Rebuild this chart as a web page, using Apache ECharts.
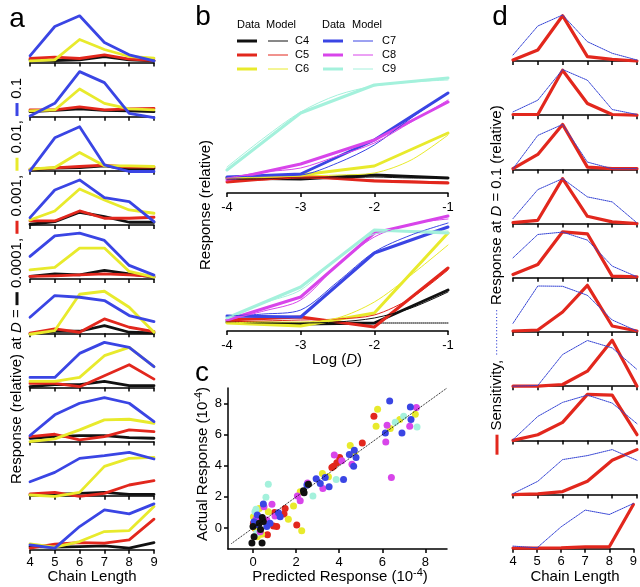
<!DOCTYPE html>
<html><head><meta charset="utf-8">
<script src="https://cdn.jsdelivr.net/npm/echarts@6/dist/echarts.min.js"></script>
<style>html,body{margin:0;padding:0;background:#fff}#c{width:640px;height:587px}</style>
</head><body><div id="c"></div>
<script>
// ---------------- DATA ----------------
const chainLengths = [4, 5, 6, 7, 8, 9];
// Panel a: relative response for 10 compounds at D = 0.1 (blue), 0.01 (yellow), 0.001 (red), 0.0001 (black)
const aBlue = [
  [6.7, 36, 46.7, 20, 7.7, 1.7],
  [0.7, 13.3, 45, 34, 3.3, -1],
  [0, 33, 44, 6, -0.7, -0.7],
  [7.3, 35, 45, 27.3, 23.3, 3.3],
  [22.7, 43.3, 46, 38.7, 13.7, 4],
  [16, 37.7, 36, 32.7, 17.7, 11.7],
  [10, 10, 34, 45, 40, 20.7],
  [6, 26.7, 38.3, 44, 38.3, 20],
  [14, 23.3, 37.3, 40, 43.3, 36.7],
  [5, 1.7, 23.3, 40, 36, 46]
];
const aYellow = [
  [1.7, 2.7, 23, 13, 6, 4.3],
  [5.7, 6.7, 27.7, 13.3, 7.7, 6.7],
  [1.7, 3.3, 18.3, 5, 5, 4.3],
  [5, 14, 36, 25, 15, 11.7],
  [9.3, 11.7, 31, 31, 7.7, 2],
  [-1, 2.7, 39, 42, 26, 1],
  [6, 6, 10, 31.7, 40, 20.7],
  [0, 2.7, 11.7, 21.7, 22.3, 18.3],
  [0.7, -0.7, 3.3, 29.3, 37.3, 38.3],
  [6, 2.7, 8.3, 18.3, 19.3, 43.3]
];
const aRed = [
  [4, 5.3, 4, 7.7, 3.3, 2],
  [6.7, 6.7, 9.7, 6.7, 7.7, 8.3],
  [1.7, 3, 4.3, 5.7, 3.7, 3.7],
  [4, 4, 14, 6.7, 6.7, 7.7],
  [2.7, 3.3, 4.3, 5.3, 4.3, 2.7],
  [0, 4.3, 1, 14.3, 6, 1.7],
  [4, 4, 0.7, 11.7, 22.7, 8.3],
  [5, 7.3, 1.7, 5, 11.7, 10],
  [1.7, 3.3, -0.7, 2.3, 10.7, 15],
  [1.7, 5.7, 7.3, 6.7, 10, 30.7]
];
const aBlack = [
  [2.7, 2, 2.7, 6, 2.7, 1.7],
  [5, 6.3, 7.7, 6.3, 5.7, 5],
  [1, 2.7, 3.3, 5, 1.7, 2.3],
  [0.7, 3.3, 12.7, 8.3, 2.7, 2.7],
  [2.7, 5.3, 4.3, 8.7, 5.3, 2],
  [-0.7, 2, 2, 7.7, 1, 0.3],
  [0.7, 2.7, 2.7, 6, 1.7, 1.7],
  [3.3, 5, 6, 6, 4, 3.3],
  [0.7, 1.3, 2.3, 3.3, 1.3, 1.3],
  [3.3, 2.7, 3.3, 4, 1.7, 7.3]
];

// Panel b: dose-response, log(D)
const bLogD = [-4, -3, -2, -1];
const bModelLogD = [-4, -3.5, -3, -2.5, -2, -1.5, -1];
const bNames = ['C4', 'C5', 'C6', 'C7', 'C8', 'C9'];
// upper plot
const bUpData = {
  C4: [0.02, 0.01, 0.05, 0.02],
  C5: [-0.02, 0.04, -0.01, -0.03],
  C6: [0.02, 0.05, 0.14, 0.47],
  C7: [0.03, 0.06, 0.40, 0.87],
  C8: [0.0, 0.16, 0.40, 0.78],
  C9: [0.10, 0.67, 0.95, 1.02]
};
const bUpModel = {
  C4: [0.01, 0.01, 0.02, 0.02, 0.03, 0.02, 0.02],
  C5: [-0.01, 0.0, 0.02, 0.01, 0.0, -0.01, -0.02],
  C6: [0.02, 0.03, 0.04, 0.05, 0.07, 0.20, 0.45],
  C7: [0.03, 0.04, 0.05, 0.17, 0.35, 0.62, 0.87],
  C8: [0.02, 0.08, 0.12, 0.24, 0.37, 0.58, 0.80],
  C9: [0.13, 0.42, 0.68, 0.85, 0.94, 0.98, 1.00]
};
// lower plot
const bLoData = {
  C4: [0.01, -0.01, 0.0, 0.33],
  C5: [0.03, 0.06, -0.04, 0.55],
  C6: [0.0, -0.03, 0.10, 0.90],
  C7: [0.07, 0.06, 0.70, 0.96],
  C8: [0.03, 0.26, 0.90, 1.07],
  C9: [0.05, 0.36, 0.93, 0.90]
};
const bLoModel = {
  C4: [0.01, 0.0, 0.0, 0.01, 0.05, 0.15, 0.31],
  C5: [0.01, 0.02, 0.03, 0.04, 0.08, 0.25, 0.53],
  C6: [0.0, 0.01, 0.01, 0.05, 0.21, 0.48, 0.78],
  C7: [0.07, 0.09, 0.13, 0.41, 0.71, 0.88, 1.00],
  C8: [0.03, 0.12, 0.23, 0.58, 0.86, 0.99, 1.04],
  C9: [0.05, 0.20, 0.33, 0.65, 0.89, 0.92, 0.92]
};
const bTicks = ['-4', '-3', '-2', '-1'];

// Panel c: predicted vs actual response (x1e-4), per chain length colour
const cBlack = [[2.57,2.82],[2.37,2.26],[2.34,2.39],[0.43,0.68],[0.48,0.41],[0.29,0.30],[-0.05,-0.96],[0.42,-0.96],[0.05,-0.56],[0.0,0.1],[0.35,-0.1]];
const cRed = [[5.61,7.18],[5.07,5.47],[4.02,4.53],[3.89,4.19],[3.74,3.97],[3.66,3.89],[1.49,1.26],[1.44,0.90],[2.03,0.19],[0.95,0.13],[1.10,0.09],[0.67,-0.43],[0.09,-0.02],[0.02,0.30],[0.09,0.47],[1.0,1.0],[0.3,0.5]];
const cYellow = [[5.78,7.63],[7.53,7.31],[6.81,6.97],[5.71,6.54],[6.37,6.39],[4.51,5.30],[4.70,4.79],[3.22,3.50],[3.50,3.29],[2.19,2.33],[1.88,1.41],[1.64,0.56],[2.26,-0.17],[0.29,1.26],[0.02,0.73],[0.20,-0.56],[0.71,1.05],[0.4,-0.4],[0.1,0.0]];
const cBlue = [[6.34,8.16],[7.30,7.78],[7.33,6.97],[6.14,6.11],[6.91,6.11],[4.70,5.0],[4.47,4.72],[4.78,4.53],[4.67,3.97],[2.93,3.16],[4.20,3.12],[3.35,3.25],[3.53,2.65],[3.12,2.86],[2.50,2.76],[0.48,1.54],[1.18,0.98],[1.26,0.73],[0.79,0.30],[0.20,0.83],[0.25,0.19],[0.64,0.09],[0.05,0.4]];
const cMagenta = [[7.58,7.74],[6.22,6.6],[7.27,6.54],[6.16,5.53],[6.42,3.25],[3.77,4.70],[4.12,4.32],[4.59,4.10],[2.53,2.9],[3.24,2.54],[2.06,2.05],[2.19,1.75],[0.88,1.52],[0.51,1.37],[1.02,0.77],[0.33,-0.24],[0.64,0.51],[0.15,0.6]];
const cCyan = [[6.99,7.18],[6.6,6.8],[7.61,6.5],[3.86,3.12],[2.78,2.05],[0.71,2.82],[0.60,1.97],[0.09,1.05],[0.17,-0.34],[0.14,1.2]];
const cTicks = [0, 2, 4, 6, 8];
const cDiagonal = [[-1, -1], [9, 9]];

// Panel d: sensitivity (red) and response at D = 0.1 (blue dotted)
const dSens = [
  [1, 11, 45.3, 4.3, 1.7, 0],
  [0.7, 0.7, 45, 11.7, 0.7, 0],
  [0.7, 15, 45, 2.3, 0.7, 0.7],
  [1, 3.3, 45, 7.3, 1.7, 0],
  [3.3, 13.3, 46, 44, 1.7, 1],
  [1, 2, 20, 46.7, 6, 1],
  [0, 0, 1.7, 15, 46, 0],
  [0, 5.7, 18, 46, 45.3, 5.7],
  [0, 0.7, 3, 13.3, 34.3, 45],
  [0.7, 0.7, 1, 2, 2, 44.3]
];
const dResp = [
  [6, 35, 46, 19.3, 7.7, 1],
  [3.3, 15, 45.7, 35, 5.7, 0.7],
  [0.7, 34, 45, 7.3, 0.7, 0.7],
  [5, 34, 45, 26.7, 21.7, 0.7],
  [20, 43.3, 45.7, 37.7, 11.7, 1],
  [8.7, 46, 45.7, 36.7, 12, 1],
  [0, 0.7, 31.7, 45.7, 38.3, 16.7],
  [0.7, 24, 38, 45.3, 37.3, 16.7],
  [1, 13.3, 35, 39, 45, 34.3],
  [2.7, 1, 22, 38.7, 34.3, 45.3]
];

// ---------------- STYLE ----------------
const FONT = '"Liberation Sans", Arial, Helvetica, sans-serif';
const COL = {C4:'#111111', C5:'#e2271d', C6:'#e8ea2c', C7:'#3a45e4', C8:'#d845ea', C9:'#a4f1dc'};
const BLUE = COL.C7, YELLOW = COL.C6, RED = COL.C5, BLACK = COL.C4, MAGENTA = COL.C8, CYAN = COL.C9;

const grids = [], xAxes = [], yAxes = [], series = [], graphics = [];
function addGrid(g, x, y) {
  grids.push(g);
  const idx = grids.length - 1;
  x.gridIndex = idx; y.gridIndex = idx;
  xAxes.push(x); yAxes.push(y);
  return idx;
}
const axLine = {onZero: false, lineStyle: {color: '#000', width: 1.5}};
const axTick = {length: 4, lineStyle: {color: '#000', width: 1.5}};
function lbl(show, extra) {
  return Object.assign({show: show, fontSize: 13, color: '#000', fontFamily: FONT, margin: 6}, extra || {});
}
function line(idx, xs, ys, color, width, type, smooth) {
  series.push({
    type: 'line', xAxisIndex: idx, yAxisIndex: idx,
    data: xs.map((x, k) => [x, ys[k]]),
    symbol: 'none', smooth: smooth || false, clip: false, silent: true,
    lineStyle: {color: color, width: width, type: type || 'solid', cap: 'round', join: 'round'},
    z: 2
  });
}

// ---- Panel a ----
for (let i = 0; i < 10; i++) {
  const base = 62.5 + 54.15 * i;
  const idx = addGrid({left: 30, top: base - 50, width: 124, height: 50},
    {type: 'value', min: 4, max: 9, interval: 1, axisLine: axLine, axisTick: axTick,
     axisLabel: lbl(i === 9), splitLine: {show: false}},
    {type: 'value', min: 0, max: 50, show: false});
  line(idx, chainLengths, aBlack[i], BLACK, 2.8);
  line(idx, chainLengths, aRed[i], RED, 2.8);
  line(idx, chainLengths, aYellow[i], YELLOW, 2.8);
  line(idx, chainLengths, aBlue[i], BLUE, 2.8);
}

// ---- Panel b ----
const bUp = addGrid({left: 227, top: 70, width: 221, height: 123},
  {type: 'value', min: -4, max: -1, interval: 1, axisLine: axLine, axisTick: axTick,
   axisLabel: lbl(true, {margin: 8, formatter: v => bTicks[Math.round(v) + 4]}), splitLine: {show: false}},
  {type: 'value', min: -0.13, max: 1.10, show: false});
const bLo = addGrid({left: 227, top: 205, width: 221, height: 126},
  {type: 'value', min: -4, max: -1, interval: 1, axisLine: axLine, axisTick: axTick,
   axisLabel: lbl(true, {margin: 8, formatter: v => bTicks[Math.round(v) + 4]}), splitLine: {show: false}},
  {type: 'value', min: -0.08, max: 1.18, show: false});
line(bLo, [-4, -1], [0, 0], '#000', 1, 'dotted');
bNames.forEach(n => {
  line(bUp, bLogD, bUpData[n], COL[n], 3);
  line(bLo, bLogD, bLoData[n], COL[n], 3);
});
bNames.forEach(n => {
  line(bUp, bModelLogD, bUpModel[n], COL[n], 1, 'solid', 0.3);
  line(bLo, bModelLogD, bLoModel[n], COL[n], 1, 'solid', 0.3);
});

// ---- Panel c ----
const cIdx = addGrid({left: 228, top: 388, width: 219, height: 161},
  {type: 'value', min: -1.16, max: 9, axisLine: axLine,
   axisTick: Object.assign({customValues: cTicks}, axTick),
   axisLabel: lbl(true, {customValues: cTicks, margin: 7}), splitLine: {show: false}},
  {type: 'value', min: -1.35, max: 9, axisLine: axLine,
   axisTick: Object.assign({customValues: cTicks}, axTick),
   axisLabel: lbl(true, {customValues: cTicks, margin: 6}), splitLine: {show: false}});
series.push({type: 'line', xAxisIndex: cIdx, yAxisIndex: cIdx, data: cDiagonal, symbol: 'none', silent: true,
  lineStyle: {color: '#000', width: 1, type: 'dotted'}, z: 3});
[[cRed, RED], [cYellow, YELLOW], [cCyan, CYAN], [cMagenta, MAGENTA], [cBlue, BLUE], [cBlack, BLACK]].forEach(([d, c]) => {
  series.push({type: 'scatter', xAxisIndex: cIdx, yAxisIndex: cIdx, data: d, symbolSize: 7, silent: true,
    itemStyle: {color: c, opacity: 1}, z: 2});
});

// ---- Panel d ----
for (let i = 0; i < 10; i++) {
  const base = 61 + 54.2 * i;
  const idx = addGrid({left: 513, top: base - 50, width: 124, height: 50},
    {type: 'value', min: 4, max: 9, interval: 1, axisLine: axLine, axisTick: axTick,
     axisLabel: lbl(i === 9), splitLine: {show: false}},
    {type: 'value', min: 0, max: 50, show: false});
  line(idx, chainLengths, dSens[i], RED, 3.2);
  line(idx, chainLengths, dResp[i], '#3342d4', 1, 'dotted');
}

// ---------------- TEXT ----------------
function txt(x, y, text, size, extra, rot) {
  graphics.push({type: 'text', x: x, y: y, rotation: rot || 0, silent: true, z: 10,
    style: Object.assign({text: text, fontSize: size, fontFamily: FONT, fill: '#000',
      textAlign: 'center', textVerticalAlign: 'middle'}, extra || {})});
}
const bar = c => ({width: 13, height: 3, backgroundColor: c, verticalAlign: 'middle'});
const ital = {fontStyle: 'italic', fontSize: 15, fontFamily: FONT};
// panel letters
txt(17, 19, 'a', 28);
txt(203, 17, 'b', 28);
txt(202, 373, 'c', 28);
txt(500, 17, 'd', 28);
// axis titles
txt(92, 577, 'Chain Length', 15);
txt(575, 577, 'Chain Length', 15);
txt(337, 360, 'Log ({i|D})', 15, {rich: {i: ital}});
txt(340, 577, 'Predicted Response (10{s|-4})', 15, {rich: {s: {fontSize: 11, fontFamily: FONT, padding: [0, 0, 9, 0]}}});
txt(206, 205, 'Response (relative)', 15, {}, Math.PI / 2);
txt(203, 464, 'Actual Response (10{s|-4})', 15, {rich: {s: {fontSize: 11, fontFamily: FONT, padding: [0, 0, 9, 0]}}}, Math.PI / 2);
txt(17, 281, 'Response (relative) at {i|D} = {k| } 0.0001, {r| } 0.001, {y| } 0.01, {b| } 0.1', 15,
  {rich: {i: ital, k: bar(BLACK), r: bar(RED), y: bar(YELLOW), b: bar(BLUE)}}, Math.PI / 2);
txt(497, 280, '{r| } Sensitivity, {d|··············} Response at {i|D} = 0.1 (relative)', 15,
  {rich: {i: ital, r: {width: 20, height: 3, backgroundColor: RED, verticalAlign: 'middle'},
          d: {fontSize: 10, fill: '#3342d4', color: '#3342d4', fontFamily: FONT}}}, Math.PI / 2);

// legend of panel b
txt(237, 25, 'Data', 11, {textAlign: 'left'});
txt(266, 25, 'Model', 11, {textAlign: 'left'});
txt(322, 25, 'Data', 11, {textAlign: 'left'});
txt(352, 25, 'Model', 11, {textAlign: 'left'});
const legRows = [41, 55, 69];
bNames.forEach((n, k) => {
  const col = k < 3 ? 0 : 1, y = legRows[k % 3];
  const dx = col === 0 ? [237, 257, 268, 288, 295] : [323, 343, 353, 373, 382];
  graphics.push({type: 'line', silent: true, shape: {x1: dx[0], y1: y, x2: dx[1], y2: y}, style: {stroke: COL[n], lineWidth: 3}});
  graphics.push({type: 'line', silent: true, shape: {x1: dx[2], y1: y, x2: dx[3], y2: y}, style: {stroke: COL[n], lineWidth: 1}});
  txt(dx[4], y, n, 11, {textAlign: 'left'});
});

const chart = echarts.init(document.getElementById('c'), null, {renderer: 'canvas'});
chart.setOption({
  animation: false,
  backgroundColor: '#fff',
  grid: grids, xAxis: xAxes, yAxis: yAxes, series: series, graphic: graphics
});
</script></body></html>
